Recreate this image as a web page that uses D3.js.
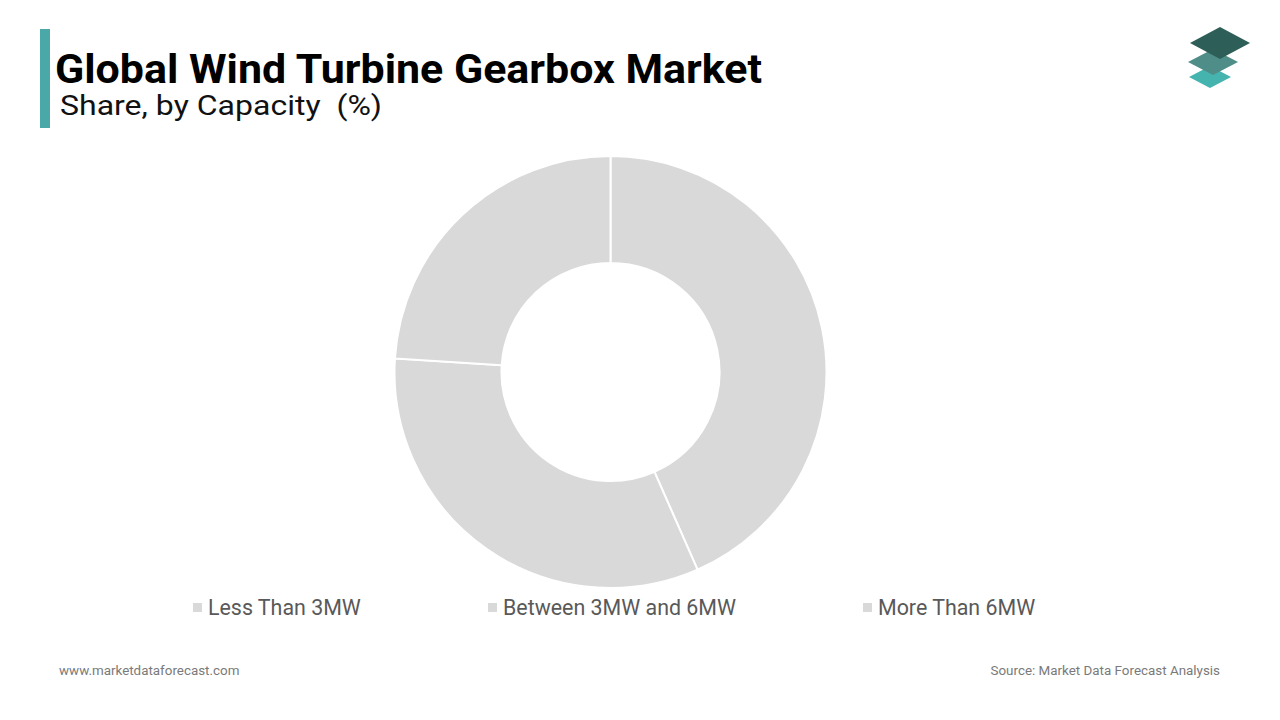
<!DOCTYPE html>
<html><head><meta charset="utf-8">
<script src="https://cdn.jsdelivr.net/npm/d3@7"></script>
<style>body{margin:0;background:#fff;} svg{display:block;} text{white-space:pre;}</style>
</head><body>
<script>
const categories = ["Less Than 3MW", "Between 3MW and 6MW", "More Than 6MW"];
const shares = [43.4, 32.6, 24.0];
const colors = ["#d9d9d9", "#d9d9d9", "#d9d9d9"];
const legendX = [193, 488, 863];

const W = 1280, H = 720;
const svg = d3.select("body").append("svg").attr("width", W).attr("height", H);
svg.append("rect").attr("width", W).attr("height", H).attr("fill", "#fff");

// header
svg.append("rect").attr("x", 40).attr("y", 29).attr("width", 10).attr("height", 99).attr("fill", "#4aa9a8");
svg.append("text").attr("x", 55).attr("y", 83).text("Global Wind Turbine Gearbox Market")
  .attr("font-family", "Roboto").attr("font-weight", 700).attr("font-size", 40).attr("fill", "#000")
  .attr("textLength", 707).attr("lengthAdjust", "spacingAndGlyphs");
svg.append("text").attr("x", 60).attr("y", 115).text("Share, by Capacity  (%)")
  .attr("font-family", "Roboto").attr("font-size", 28.5).attr("fill", "#111")
  .attr("textLength", 322).attr("lengthAdjust", "spacingAndGlyphs");

// logo
const logo = svg.append("g");
const diamond = (cx, cy, w, h) => `M${cx},${cy - h/2} L${cx + w/2},${cy} L${cx},${cy + h/2} L${cx - w/2},${cy} Z`;
logo.append("path").attr("d", diamond(1210, 77, 42, 22)).attr("fill", "#45b3ae");
logo.append("path").attr("d", diamond(1213, 62, 50, 26)).attr("fill", "#4f8e88");
logo.append("path").attr("d", diamond(1220, 43, 60, 32)).attr("fill", "#2e5e58");

// donut
const cx = 610.5, cy = 372, rOuter = 216, rInner = 109;
const pie = d3.pie().sort(null).value(d => d)(shares);
const arc = d3.arc().innerRadius(rInner).outerRadius(rOuter);
svg.append("g").attr("transform", `translate(${cx},${cy})`)
  .selectAll("path").data(pie).join("path")
  .attr("d", arc).attr("fill", (d, i) => colors[i])
  .attr("stroke", "#fff").attr("stroke-width", 2);

// legend
const lg = svg.append("g");
categories.forEach((c, i) => {
  lg.append("rect").attr("x", legendX[i]).attr("y", 603).attr("width", 9).attr("height", 9).attr("fill", colors[i]);
  lg.append("text").attr("x", legendX[i] + 15).attr("y", 615).text(c)
    .attr("font-family", "Roboto").attr("font-size", 21.4).attr("fill", "#595959");
});

// footer
svg.append("text").attr("x", 59).attr("y", 675).text("www.marketdataforecast.com")
  .attr("font-family", "Roboto").attr("font-size", 13.4).attr("fill", "#7a7a7a");
svg.append("text").attr("x", 1220).attr("y", 675).attr("text-anchor", "end").text("Source: Market Data Forecast Analysis")
  .attr("font-family", "Roboto").attr("font-size", 13.4).attr("fill", "#7a7a7a");
</script>
</body></html>
